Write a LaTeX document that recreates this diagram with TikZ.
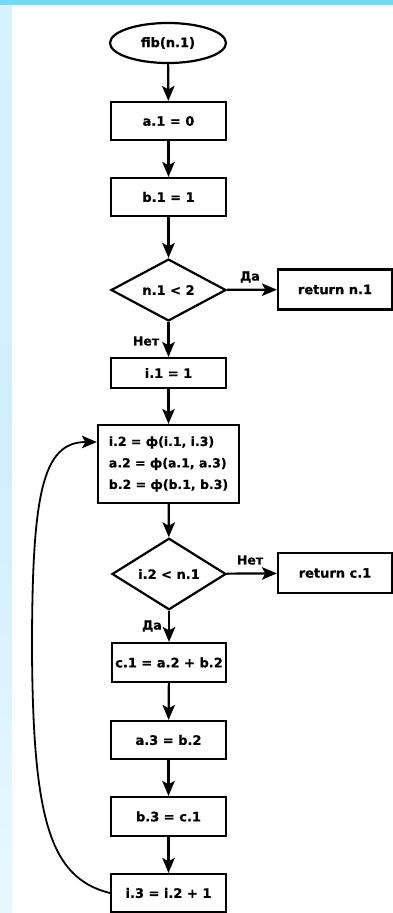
\documentclass[tikz,border=0pt]{standalone}
\usepackage{fontspec}
\setmainfont{DejaVu Sans}[BoldFeatures={FakeBold=0.6}]
\usetikzlibrary{arrows.meta,shapes.geometric}
\definecolor{topbar}{RGB}{112,219,255}
\definecolor{stripA}{RGB}{214,242,255}
\definecolor{stripB}{RGB}{208,239,255}
\definecolor{stripC}{RGB}{232,248,255}
\begin{document}
\begin{tikzpicture}[x=1pt,y=-1pt,
  every node/.style={font=\fontsize{13}{15}\selectfont\bfseries},
  box/.style={draw,line width=2.2pt,minimum width=115pt,minimum height=38pt,inner sep=0pt},
  dec/.style={draw,diamond,line width=2.2pt,minimum width=115pt,minimum height=61pt,inner sep=0pt},
  term/.style={draw,ellipse,line width=2.2pt,minimum width=116pt,minimum height=40pt,inner sep=0pt},
  lbl/.style={inner sep=0pt,font=\fontsize{12.5}{14}\selectfont\bfseries},
  arr/.style={line width=2.2pt,-{Stealth[length=15pt,width=12.5pt,inset=3.5pt]}}]
\useasboundingbox (0,0) rectangle (393,913);
\fill[white] (0,0) rectangle (393,913);
\shade[top color=stripA,bottom color=stripC,middle color=stripB] (0,5) rectangle (12,913);
\fill[topbar] (0,0) rectangle (393,5);

\node[term] (start) at (168,43) {fib(n.1)};
\node[box] (a1) at (168.5,121) {a.1 = 0};
\node[box] (b1) at (168.5,197) {b.1 = 1};
\node[dec] (d1) at (168.5,290) {n.1 < 2};
\node[box,minimum width=114pt,minimum height=40pt] (r1) at (335,289.5) {return n.1};
\node[box,minimum height=30pt] (i1) at (168.5,373) {i.1 = 1};
\node[box,minimum width=141pt,minimum height=78pt,align=left,anchor=center,
      font=\fontsize{12.5}{21.5}\selectfont\bfseries] (phi) at (168.5,464)
  {i.2 = ф(i.1, i.3)\\a.2 = ф(a.1, a.3)\\b.2 = ф(b.1, b.3)};
\node[dec,minimum width=114pt,minimum height=60pt] (d2) at (169,574) {i.2 < n.1};
\node[box,minimum width=114pt,minimum height=40pt] (r2) at (335,573) {return c.1};
\node[box,minimum width=114pt,minimum height=39pt] (c1) at (169,662.5) {c.1 = a.2 + b.2};
\node[box] (a3) at (168.5,740) {a.3 = b.2};
\node[box,minimum height=39pt] (b3) at (168.5,816.5) {b.3 = c.1};
\node[box] (i3) at (168.5,893) {i.3 = i.2 + 1};

\node[lbl] (yes1) at (250,277) {Да};
\node[lbl] (no1) at (146,341) {Нет};
\node[lbl] (no2) at (250,560) {Нет};
\node[lbl] (yes2) at (152,626) {Да};

\draw[arr] (start) -- (a1);
\draw[arr] (a1) -- (b1);
\draw[arr] (b1) -- (d1);
\draw[arr] (d1) -- (r1);
\draw[arr] (d1) -- (i1);
\draw[arr] (i1) -- (phi);
\draw[arr] (phi) -- (d2);
\draw[arr] (d2) -- (r2);
\draw[arr] (d2) -- (c1);
\draw[arr] (c1) -- (a3);
\draw[arr] (a3) -- (b3);
\draw[arr] (b3) -- (i3);
\coordinate (loopmid) at (32,650);
\draw[arr,line width=1.8pt] (i3.west) .. controls (50,878) and (33,820) .. (loopmid)
  .. controls (32,495) and (42,442) .. ([yshift=22pt]phi.west);
\end{tikzpicture}
\end{document}
